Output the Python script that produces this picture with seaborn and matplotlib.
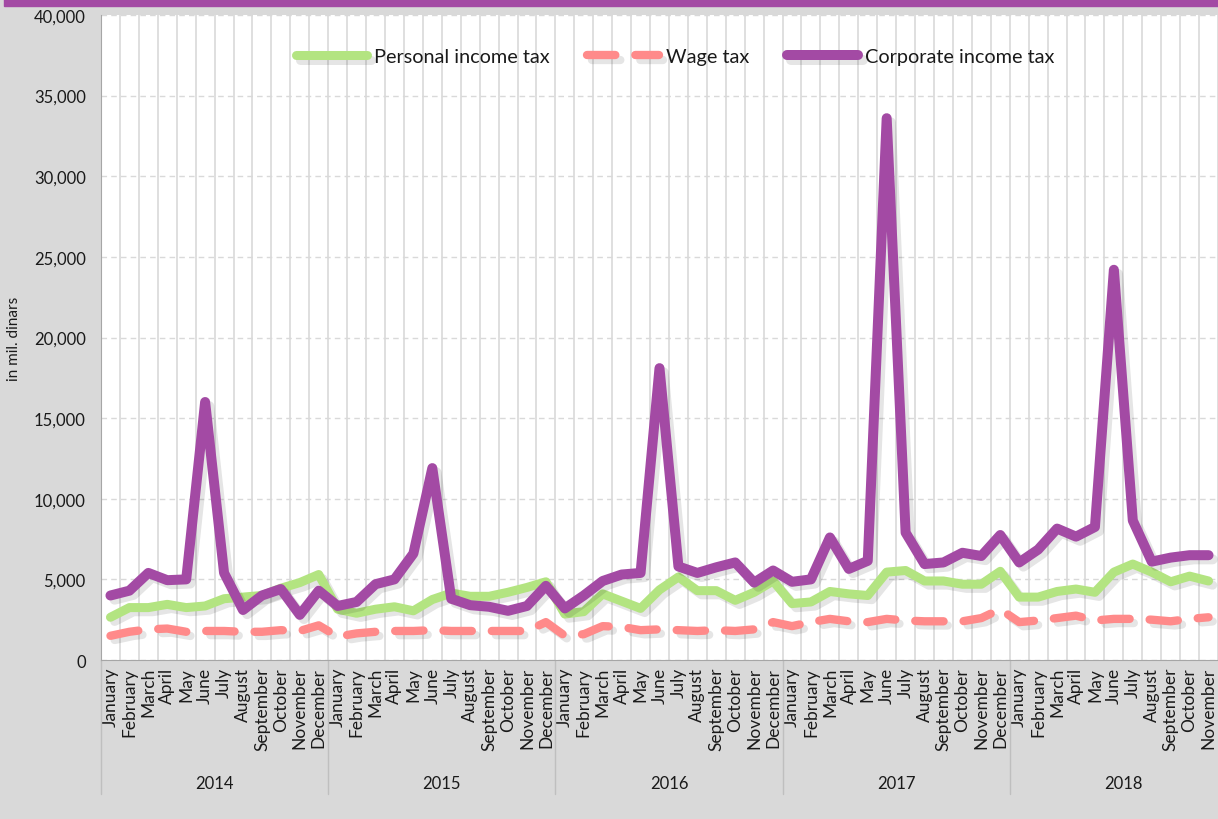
import numpy as np
import pandas as pd
import matplotlib
matplotlib.use("Agg")
import matplotlib.pyplot as plt
import matplotlib.patheffects as pe
from matplotlib.patches import Rectangle
import seaborn as sns

# ---------------- data ----------------
month_names = ["January", "February", "March", "April", "May", "June", "July",
               "August", "September", "October", "November", "December"]
years = ["2014", "2015", "2016", "2017", "2018"]
months_in_year = [12, 12, 12, 12, 11]

personal_income_tax = [
    2650, 3250, 3250, 3450, 3250, 3350, 3800, 3900, 4000, 4450, 4800, 5300,
    3150, 2900, 3150, 3300, 3050, 3750, 4150, 3950, 3950, 4200, 4500, 4850,
    2850, 3000, 4100, 3650, 3200, 4350, 5150, 4300, 4300, 3700, 4200, 4900,
    3500, 3600, 4250, 4100, 4000, 5450, 5550, 4900, 4900, 4700, 4700, 5500,
    3900, 3900, 4250, 4400, 4200, 5450, 5950, 5450, 4850, 5200, 4900,
]
wage_tax = [
    1500, 1750, 1900, 1950, 1750, 1800, 1800, 1750, 1750, 1850, 1800, 2150,
    1450, 1650, 1750, 1800, 1800, 1850, 1800, 1800, 1800, 1800, 1800, 2350,
    1500, 1600, 2100, 2050, 1850, 1900, 1850, 1800, 1850, 1800, 1900, 2350,
    2100, 2350, 2550, 2400, 2350, 2550, 2450, 2400, 2400, 2400, 2600, 3150,
    2350, 2450, 2600, 2750, 2450, 2550, 2550, 2500, 2400, 2550, 2650,
]
corporate_income_tax = [
    4000, 4300, 5400, 4950, 5000, 16000, 5400, 3100, 4000, 4400, 2800, 4300,
    3350, 3600, 4700, 5000, 6600, 11900, 3800, 3400, 3300, 3050, 3350, 4600,
    3200, 4000, 4900, 5300, 5400, 18100, 5800, 5400, 5750, 6050, 4800, 5550,
    4850, 5000, 7600, 5650, 6150, 33600, 7900, 5950, 6050, 6650, 6450, 7750,
    6050, 6850, 8150, 7650, 8250, 24200, 8650, 6100, 6350, 6500, 6500,
]
series_names = ["Personal income tax", "Wage tax", "Corporate income tax"]
y_ticks = [0, 5000, 10000, 15000, 20000, 25000, 30000, 35000, 40000]

# ---------------- derived ----------------
month_labels = []
for y, n in zip(years, months_in_year):
    month_labels += month_names[:n]
n_pts = len(month_labels)
idx = np.arange(n_pts)

df = pd.DataFrame({
    "idx": idx,
    series_names[0]: personal_income_tax,
    series_names[1]: wage_tax,
    series_names[2]: corporate_income_tax,
})

# ---------------- style ----------------
sns.set_style("white")
plt.rcParams["font.family"] = ["Lato", "DejaVu Sans"]

BG = "#d9d9d9"
PURPLE = "#a34aa4"
GREEN = "#b3e481"
PINK = "#ff8a8a"
GRID = "#d9d9d9"
AXIS = "#a6a6a6"
TXT = "#1a1a1a"

fig = plt.figure(figsize=(12.18, 8.2), dpi=100, facecolor=BG)
ax = fig.add_axes([101 / 1218, 1 - 661 / 820, 1 - 101 / 1218, (661 - 16) / 820])
ax.set_facecolor("white")

# top purple band
fig.patches.append(Rectangle((4 / 1218, 1 - 6.5 / 820), 1, 7 / 820,
                             transform=fig.transFigure, color=PURPLE, zorder=0))

shadow = [pe.SimpleLineShadow(offset=(3, -3), shadow_color="black", alpha=0.10),
          pe.Normal()]

sns.lineplot(data=df, x="idx", y=series_names[0], ax=ax, color=GREEN,
             linewidth=6.5, label=series_names[0], path_effects=shadow,
             solid_joinstyle="round", solid_capstyle="round", zorder=3)
sns.lineplot(data=df, x="idx", y=series_names[1], ax=ax, color=PINK,
             linewidth=6.0, label=series_names[1], path_effects=shadow,
             linestyle=(0, (3.4, 2.4)), dash_capstyle="round",
             dash_joinstyle="round", zorder=3)
sns.lineplot(data=df, x="idx", y=series_names[2], ax=ax, color=PURPLE,
             linewidth=7.2, label=series_names[2], path_effects=shadow,
             solid_joinstyle="round", solid_capstyle="round", zorder=4)

# axes limits / y ticks
ax.set_xlim(-0.5, n_pts - 0.5)
ax.set_ylim(0, 40000)
ax.set_yticks(y_ticks)
ax.set_yticklabels([f"{v:,}" for v in y_ticks], fontsize=12, color=TXT)
ax.tick_params(axis="y", direction="out", length=5, width=1, color=AXIS, pad=6)
ax.set_ylabel("in mil. dinars", fontsize=11, color=TXT, labelpad=9)
ax.set_xlabel("")

# x: boundaries (major, long separator ticks) and centers (minor, labels)
boundaries = np.arange(n_pts + 1) - 0.5
ax.set_xticks(boundaries)
ax.set_xticklabels([""] * len(boundaries))
ax.tick_params(axis="x", which="major", direction="out", length=71, width=1,
               color="#bfbfbf")
ax.set_xticks(idx, minor=True)
ax.set_xticklabels(month_labels, minor=True, rotation=90, fontsize=12.5,
                   color=TXT, va="top", ha="center")
ax.tick_params(axis="x", which="minor", length=0, pad=5)

# grids
ax.grid(axis="x", which="major", color=GRID, linewidth=1.2, linestyle="-")
ax.grid(axis="y", which="major", color=GRID, linewidth=1, linestyle=(0, (4, 3)))
ax.set_axisbelow(True)

for side in ["top", "right"]:
    ax.spines[side].set_visible(False)
ax.spines["left"].set_color(AXIS)
ax.spines["bottom"].set_color(AXIS)

# year separators and labels
trans = ax.get_xaxis_transform()
start = 0
for y, n in zip(years, months_in_year):
    b = start - 0.5
    ax.plot([b, b], [0, -134 / 645], transform=trans, color="#bfbfbf",
            linewidth=1, clip_on=False, zorder=1)
    ax.text(start + (12 - 1) / 2, -123 / 645, y, transform=trans,
            ha="center", va="center", fontsize=12, color=TXT)
    start += n

# legend
leg = ax.legend(loc="center", bbox_to_anchor=(0.514, 0.935), ncol=3,
                frameon=False, fontsize=14.3, handlelength=3.6,
                handletextpad=0.35, columnspacing=1.9)
for t in leg.get_texts():
    t.set_color(TXT)

fig.savefig("out.png", dpi=100, facecolor=BG)
